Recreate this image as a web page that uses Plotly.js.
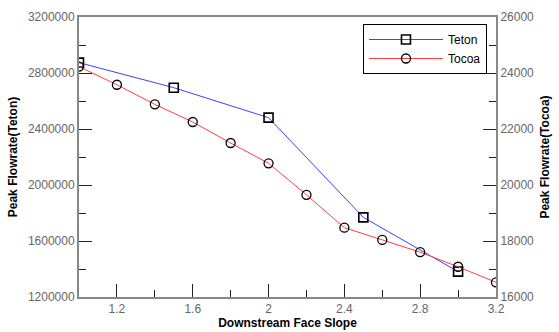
<!DOCTYPE html>
<html><head><meta charset="utf-8">
<script src="https://cdn.plot.ly/plotly-3.0.1.min.js"></script>
<style>html,body{margin:0;padding:0;background:#fff}#chart{width:559px;height:332px}</style>
</head><body><div id="chart"></div>
<script>
const tetonSlope = [1.0, 1.5, 2.0, 2.5, 3.0];
const tetonFlow = [2874000, 2695000, 2481000, 1769000, 1381000];
const tocoaSlope = [1.0, 1.2, 1.4, 1.6, 1.8, 2.0, 2.2, 2.4, 2.6, 2.8, 3.0, 3.2];
const tocoaFlow = [24230, 23580, 22880, 22250, 21500, 20775, 19650, 18475, 18040, 17600, 17080, 16525];

const font = 'Liberation Sans, Arial, sans-serif';
const traces = [
  {x: tetonSlope, y: tetonFlow, name: 'Teton', type: 'scatter', mode: 'lines+markers',
   line: {color: '#4040ff', width: 1},
   marker: {symbol: 'square-open', size: 9, color: '#000', line: {width: 1.6, color: '#000'}}},
  {x: tocoaSlope, y: tocoaFlow, name: 'Tocoa', type: 'scatter', mode: 'lines+markers', yaxis: 'y2',
   line: {color: '#ff4040', width: 1},
   marker: {symbol: 'circle-open', size: 9, color: '#000', line: {width: 1.3, color: '#000'}}}
];
const axCommon = {
  showgrid: false, zeroline: false, showline: true, linecolor: '#888', linewidth: 2,
  ticks: 'inside', ticklen: 13, tickwidth: 1, tickcolor: '#222',
  tickfont: {family: font, size: 12, color: '#666'}
};
const layout = {
  width: 559, height: 332,
  margin: {l: 79, r: 63, t: 17, b: 35},
  paper_bgcolor: '#fff', plot_bgcolor: '#fff',
  showlegend: true,
  legend: {x: 0.681, y: 0.975, xanchor: 'left', yanchor: 'top', bgcolor: '#fff',
    bordercolor: '#000', borderwidth: 1, font: {family: font, size: 12, color: '#000'},
    itemwidth: 74, tracegroupgap: 0},
  xaxis: Object.assign({}, axCommon, {
    range: [1, 3.2], tick0: 1.2, dtick: 0.4, mirror: true,
    minor: {ticks: 'inside', ticklen: 7, dtick: 0.2, tick0: 1.0, tickcolor: '#222'},
    title: {text: 'Downstream Face Slope', standoff: 2, font: {family: font, size: 12, color: '#000', weight: 'bold'}}
  }),
  yaxis: Object.assign({}, axCommon, {
    range: [1200000, 3200000], dtick: 400000, tick0: 1200000, tickformat: 'd',
    minor: {ticks: 'inside', ticklen: 7, dtick: 200000, tickcolor: '#222'},
    title: {text: 'Peak Flowrate(Teton)', standoff: 8, font: {family: font, size: 12, color: '#000', weight: 'bold'}}
  }),
  yaxis2: Object.assign({}, axCommon, {
    overlaying: 'y', side: 'right',
    range: [16000, 26000], dtick: 2000, tick0: 16000, tickformat: 'd',
    minor: {ticks: 'inside', ticklen: 7, dtick: 1000, tickcolor: '#222'},
    title: {text: 'Peak Flowrate(Tocoa)', standoff: 8, font: {family: font, size: 12, color: '#000', weight: 'bold'}}
  })
};
Plotly.newPlot('chart', traces, layout, {displayModeBar: false, staticPlot: true});
</script></body></html>
